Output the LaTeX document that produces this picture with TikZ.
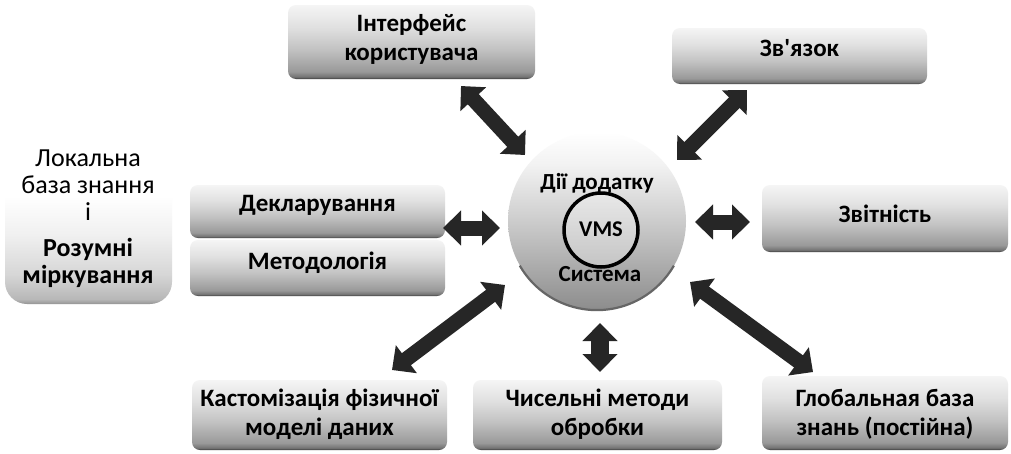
\documentclass[tikz,border=0pt]{standalone}
\usepackage{fontspec}
\setmainfont{Carlito}
\usetikzlibrary{arrows.meta}

% panel fill: light top, darker bottom, dark lower edge (fit region 25bp..75bp)
\pgfdeclareverticalshading{panelshade}{100bp}{%
  color(0bp)=(black!78); color(25bp)=(black!78); color(26.5bp)=(black!55);
  color(30bp)=(black!40); color(45bp)=(black!24); color(60bp)=(black!12);
  color(75bp)=(black!4); color(100bp)=(black!4)}
\pgfdeclareverticalshading{softshade}{100bp}{%
  color(0bp)=(black!42); color(25bp)=(black!42); color(26.5bp)=(black!28);
  color(34bp)=(black!16); color(46bp)=(black!6); color(58bp)=(white); color(100bp)=(white)}
\pgfdeclareverticalshading{hubshade}{100bp}{%
  color(0bp)=(black!45); color(25bp)=(black!45); color(38bp)=(black!32);
  color(52bp)=(black!18); color(66bp)=(black!5); color(75bp)=(white); color(100bp)=(white)}

\begin{document}
\begin{tikzpicture}[x=1pt,y=-1pt,
  panel/.style 2 args={rectangle, rounded corners=8pt, shading=panelshade,
    minimum width=#1, minimum height=#2, inner sep=0pt},
  label text/.style={align=center, inner sep=0pt,
    font=\bfseries\fontsize{25}{29}\selectfont},
  dblarrow/.style={draw=black!85, line width=15pt,
    >={Triangle[length=18pt,width=34pt]}, <->}
]
\useasboundingbox[fill=white] (0,0) rectangle (1011,453);

% central hub
\node[circle, shading=hubshade, minimum size=178pt, inner sep=0pt] (hub) at (597,221) {};
\draw[black!60, line width=2.2pt] (hub.210) arc[start angle=210, end angle=330, radius=89pt];
\node[circle, draw=black, line width=3.5pt, fill=white, fill opacity=0.3,
      minimum size=74pt, inner sep=0pt] (vms) at (601,230) {};
\node[font=\bfseries\fontsize{22.5}{26}\selectfont, inner sep=0pt] (vms-t) at (601,229) {VMS};
\node[font=\bfseries\fontsize{23}{26}\selectfont, inner sep=0pt] (app) at (597,183) {Дії додатку};
\node[font=\bfseries\fontsize{23}{26}\selectfont, inner sep=0pt] (sys) at (600,274) {Система};

% panels
\node[panel={247pt}{74pt}] (ui) at (411.5,42) {};
\node[label text] (ui-t) at (411.5,39) {Інтерфейс\\користувача};

\node[panel={255pt}{56pt}] (link) at (799.5,56) {};
\node[label text] (link-t) at (799.5,48) {Зв\textquotesingle язок};

\node[panel={255pt}{53pt}] (decl) at (317.5,211.5) {};
\node[label text] (decl-t) at (317.5,205) {Декларування};

\node[panel={255pt}{56pt}] (meth) at (317.5,268) {};
\node[label text] (meth-t) at (317.5,263) {Методологія};

\node[panel={246pt}{67pt}] (rep) at (885,218.5) {};
\node[label text] (rep-t) at (885,214) {Звітність};

\node[panel={255pt}{70pt}] (cust) at (319.5,415) {};
\node[label text] (cust-t) at (319.5,414) {Кастомізація фізичної\\моделі даних};

\node[panel={249pt}{70pt}] (num) at (597.5,415) {};
\node[label text] (num-t) at (597.5,414) {Чисельні методи\\обробки};

\node[panel={246pt}{74pt}] (glob) at (885,413) {};
\node[label text] (glob-t) at (885,414) {Глобальная база\\знань (постійна)};

% local knowledge base panel
\node[rectangle, rounded corners=22pt, shading=softshade,
      minimum width=167pt, minimum height=164pt, inner sep=0pt] (loc) at (88.5,222) {};
\node[align=center, inner sep=0pt, font=\fontsize{26}{27}\selectfont] (loc-t1) at (88,185)
  {Локальна\\база знання\\і};
\node[align=center, inner sep=0pt, font=\bfseries\fontsize{26}{27.5}\selectfont] (loc-t2) at (88,263)
  {Розумні\\міркування};

% connector end points
\coordinate (a1s) at (461,86);  \coordinate (a1e) at (525,155);
\coordinate (a2s) at (747,90);  \coordinate (a2e) at (677,160);
\coordinate (a3s) at (443,228); \coordinate (a3e) at (500,228);
\coordinate (a4s) at (695,222); \coordinate (a4e) at (750,222);
\coordinate (a5s) at (505,285); \coordinate (a5e) at (392,370);
\coordinate (a6s) at (600,323); \coordinate (a6e) at (600,372);
\coordinate (a7s) at (690,282); \coordinate (a7e) at (813,372);

\draw[dblarrow] (a1s) -- (a1e);
\draw[dblarrow] (a2s) -- (a2e);
\draw[dblarrow] (a3s) -- (a3e);
\draw[dblarrow] (a4s) -- (a4e);
\draw[dblarrow] (a5s) -- (a5e);
\draw[dblarrow, line width=18pt] (a6s) -- (a6e);
\draw[dblarrow] (a7s) -- (a7e);
\end{tikzpicture}
\end{document}
